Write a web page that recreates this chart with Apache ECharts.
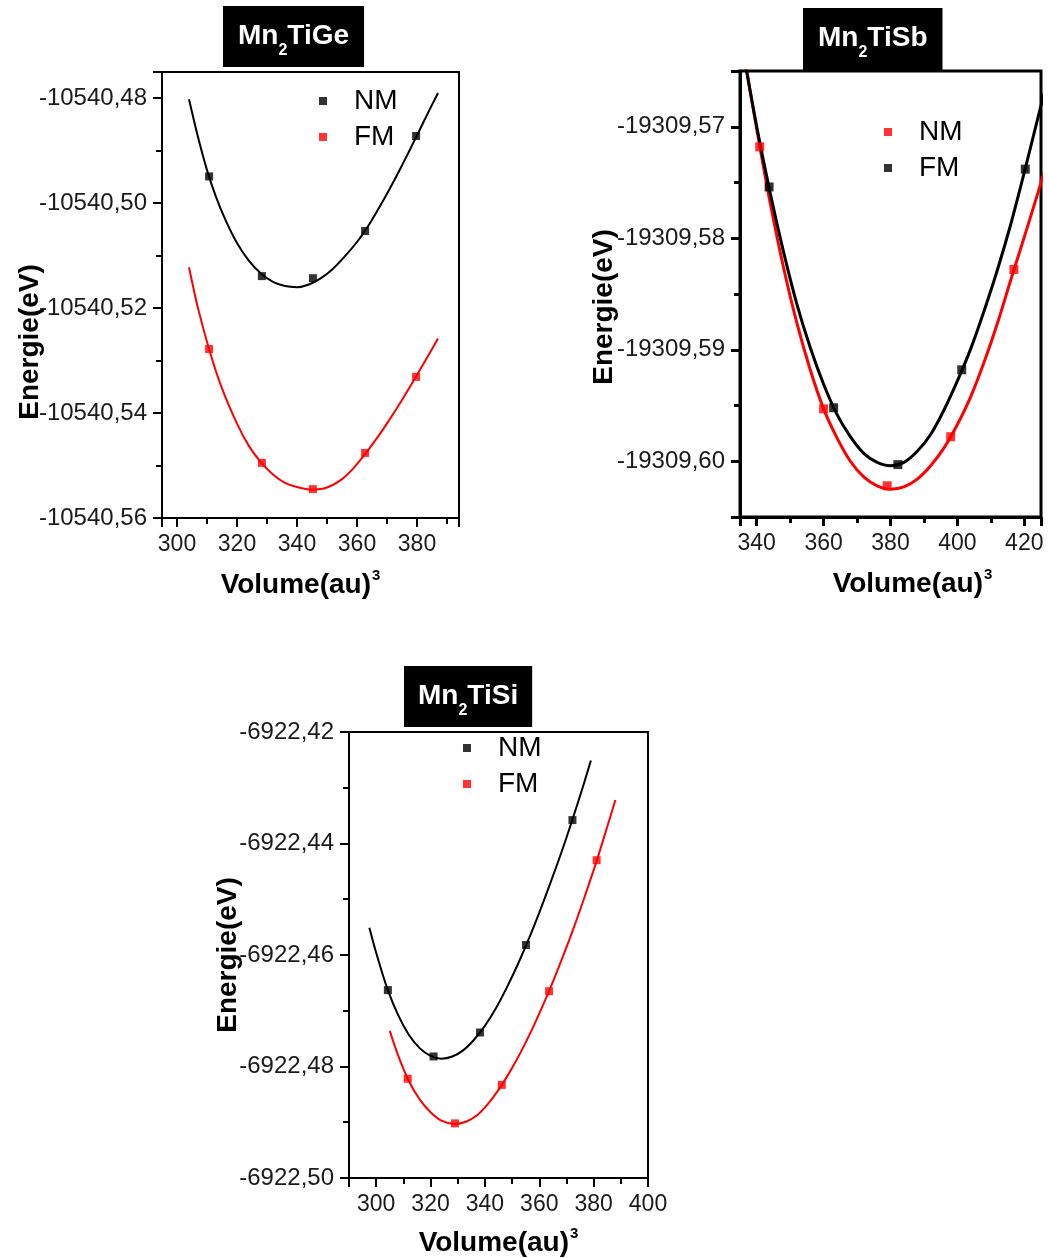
<!DOCTYPE html>
<html>
<head>
<meta charset="utf-8">
<title>Mn2TiX - E(V)</title>
<script src="https://cdn.jsdelivr.net/npm/echarts@6/dist/echarts.min.js"></script>
<style>
  html, body { margin: 0; padding: 0; background: #fff; }
  #chart { width: 1049px; height: 1258px; }
</style>
</head>
<body>
<div id="chart"></div>
<script>

// Mn2TiGe
var geNM = [[310.7, -10540.4949], [328.3, -10540.5139], [345.3, -10540.5143], [362.7, -10540.5053], [379.7, -10540.4872]];
var geFM = [[310.7, -10540.5278], [328.3, -10540.5495], [345.3, -10540.5545], [362.7, -10540.5476], [379.7, -10540.5331]];
var geNMFit = [[304, -10540.4802], [307, -10540.4874], [310, -10540.4937], [313, -10540.4988], [316, -10540.5030],
	[320, -10540.5076], [324, -10540.5110], [328, -10540.5134], [332, -10540.5150], [336, -10540.5158],
	[340, -10540.5160], [344, -10540.5155], [348, -10540.5143], [352, -10540.5125], [356, -10540.5101],
	[360, -10540.5074], [363, -10540.5050], [366, -10540.5022], [370, -10540.4982], [374, -10540.4939],
	[378, -10540.4894], [381, -10540.4859], [384, -10540.4824], [387, -10540.4790]];
var geFMFit = [[304, -10540.5122], [307, -10540.5200], [311, -10540.5284], [315, -10540.5353], [320, -10540.5420],
	[324, -10540.5463], [328, -10540.5494], [332, -10540.5517], [336, -10540.5533], [340, -10540.5541],
	[345, -10540.5546], [350, -10540.5542], [355, -10540.5526], [359, -10540.5504], [363, -10540.5476],
	[367, -10540.5445], [371, -10540.5411], [375, -10540.5375], [379, -10540.5337], [383, -10540.5298],
	[387, -10540.5258]];

// Mn2TiSb (NM red, FM black in this panel)
var sbNM = [[340.9, -19309.5718], [360.0, -19309.5953], [379.0, -19309.6022], [398.0, -19309.5978], [416.9, -19309.5828]];
var sbFM = [[343.7, -19309.5754], [363.0, -19309.5952], [382.2, -19309.6003], [401.3, -19309.5918], [420.3, -19309.5738]];
var sbNMFit = [[337, -19309.5649], [340, -19309.5702], [344, -19309.5768], [348, -19309.5826], [352, -19309.5876],
	[356, -19309.5918], [360, -19309.5953], [364, -19309.5979], [368, -19309.6000], [372, -19309.6014],
	[376, -19309.6022], [380, -19309.6025], [384, -19309.6023], [388, -19309.6016], [392, -19309.6004],
	[396, -19309.5988], [400, -19309.5967], [404, -19309.5942], [408, -19309.5911], [412, -19309.5876],
	[416, -19309.5837], [420, -19309.5799], [424, -19309.5760], [428, -19309.5720]];
var sbFMFit = [[336, -19309.5634], [340, -19309.5700], [344, -19309.5759], [348, -19309.5812], [352, -19309.5859],
	[356, -19309.5898], [360, -19309.5931], [364, -19309.5958], [368, -19309.5978], [372, -19309.5993],
	[376, -19309.6001], [380, -19309.6004], [384, -19309.6001], [388, -19309.5991], [392, -19309.5976],
	[396, -19309.5954], [400, -19309.5928], [404, -19309.5899], [408, -19309.5865], [412, -19309.5828],
	[416, -19309.5787], [420, -19309.5741], [424, -19309.5693], [428, -19309.5645]];

// Mn2TiSi
var siNM = [[304.3, -6922.4663], [321.1, -6922.4782], [338.2, -6922.4739], [355.1, -6922.4582], [372.2, -6922.4358]];
var siFM = [[311.6, -6922.4822], [329.0, -6922.4902], [346.2, -6922.4833], [363.6, -6922.4665], [381.1, -6922.4430]];
var siNMFit = [[297.5, -6922.4551], [300, -6922.4596], [304, -6922.4659], [308, -6922.4707], [312, -6922.4743],
	[316, -6922.4767], [320, -6922.4781], [324, -6922.4786], [328, -6922.4782], [332, -6922.4771],
	[336, -6922.4752], [340, -6922.4727], [344, -6922.4696], [348, -6922.4659], [352, -6922.4618],
	[356, -6922.4573], [360, -6922.4524], [364, -6922.4472], [368, -6922.4418], [372, -6922.4360],
	[376, -6922.4299], [379, -6922.4251]];
var siFMFit = [[305, -6922.4736], [308, -6922.4779], [312, -6922.4826], [316, -6922.4859], [320, -6922.4882],
	[324, -6922.4897], [329, -6922.4903], [333, -6922.4899], [337, -6922.4888], [341, -6922.4868],
	[345, -6922.4842], [349, -6922.4811], [353, -6922.4776], [357, -6922.4737], [361, -6922.4694],
	[365, -6922.4648], [369, -6922.4599], [373, -6922.4547], [377, -6922.4491], [381, -6922.4433],
	[385, -6922.4370], [388, -6922.4322]];

var titles = ['TiGe', 'TiSb', 'TiSi'];
var legendNames = ['NM', 'FM'];

/* --- styling --- */
var FONT = "'Liberation Sans', Arial, sans-serif";
var RED = '#ff0000', BLACK = '#000000';

function fmtE(v) {
	return v.toFixed(2).replace('.', ',');
}

function xAxis(gi, min, max, lw, showMax, shift, gap) {
	return {
		type: 'value', gridIndex: gi, min: min, max: max, splitNumber: 5,
		name: 'Volume(au){sup|3}', nameLocation: 'middle', nameGap: gap,
		nameMoveOverlap: false,
		nameTextStyle: {
			fontFamily: FONT, fontSize: 28, fontWeight: 'bold', color: '#000',
			padding: shift > 0 ? [0, 0, 0, 2 * shift] : [0, -2 * shift, 0, 0],
			rich: { sup: { fontFamily: FONT, fontSize: 15, fontWeight: 'bold', color: '#000', padding: [0, 0, 20, 1] } }
		},
		axisLine: { onZero: false, lineStyle: { color: '#000', width: lw } },
		axisTick: { length: 9, lineStyle: { color: '#000', width: lw } },
		minorTick: { show: true, splitNumber: 2, length: 6, lineStyle: { color: '#000', width: lw } },
		splitLine: { show: false },
		axisLabel: {
			margin: 15, fontFamily: FONT, fontSize: 23, color: '#1a1a1a',
			showMinLabel: false, showMaxLabel: showMax
		}
	};
}

function yAxis(gi, min, max, lw, showMin, showMax, shift, gap) {
	return {
		type: 'value', gridIndex: gi, min: min, max: max, splitNumber: 4,
		name: 'Energie(eV)', nameLocation: 'middle', nameGap: gap,
		nameMoveOverlap: false,
		nameTextStyle: {
			fontFamily: FONT, fontSize: 28, fontWeight: 'bold', color: '#000',
			padding: [0, 2 * shift, 0, 0]
		},
		axisLine: { onZero: false, lineStyle: { color: '#000', width: lw } },
		axisTick: { length: 9, lineStyle: { color: '#000', width: lw } },
		minorTick: { show: true, splitNumber: 2, length: 6, lineStyle: { color: '#000', width: lw } },
		splitLine: { show: false },
		axisLabel: {
			margin: 15, fontFamily: FONT, fontSize: 24, color: '#1a1a1a',
			showMinLabel: showMin, showMaxLabel: showMax,
			formatter: fmtE
		}
	};
}

function title(i, left, top, padH, padB) {
	return {
		text: '{m|Mn}{s|2}{m|' + titles[i] + '}',
		left: left, top: top,
		backgroundColor: '#000',
		padding: [7, padH, padB, padH],
		textStyle: {
			rich: {
				m: { fontFamily: FONT, fontSize: 28, fontWeight: 'bold', color: '#fff', lineHeight: 30 },
				s: { fontFamily: FONT, fontSize: 16, fontWeight: 'bold', color: '#fff', lineHeight: 16, padding: [30, 0, 0, 0] }
			}
		}
	};
}

function legend(left, top, nmColor, fmColor) {
	return {
		left: left, top: top, orient: 'vertical',
		icon: 'rect', itemWidth: 8, itemHeight: 8, itemGap: 8,
		selectedMode: false,
		data: [
			{ name: legendNames[0], itemStyle: { color: nmColor } },
			{ name: legendNames[1], itemStyle: { color: fmColor } }
		],
		textStyle: { fontFamily: FONT, fontSize: 28, color: '#000', padding: [0, 0, 0, 22] }
	};
}

function points(gi, name, data, color, size) {
	return {
		type: 'scatter', name: name, xAxisIndex: gi, yAxisIndex: gi,
		data: data, symbol: 'rect', symbolSize: size,
		itemStyle: { color: color }, z: 4
	};
}

function fit(gi, name, data, color, lw) {
	return {
		type: 'line', name: name, xAxisIndex: gi, yAxisIndex: gi,
		data: data, symbol: 'none', smooth: 0.3, clip: true,
		lineStyle: { color: color, width: lw }, itemStyle: { color: color },
		z: 3, silent: true
	};
}

var chart = echarts.init(document.getElementById('chart'), null, { renderer: 'canvas' });

var option = {
	backgroundColor: '#fff',
	animation: false,
	title: [
		title(0, 223, 14, 15, 8),
		title(1, 803, 16, 15, 11),
		title(2, 404, 674, 14, 8)
	],
	legend: [
		legend(314, 82, BLACK, RED),
		legend(879, 113, RED, BLACK),
		legend(458, 729, BLACK, RED)
	],
	grid: [
		{ left: 162, top: 72, width: 297, height: 446, show: true, borderColor: '#000', borderWidth: 2, outerBoundsMode: 'none' },
		{ left: 740, top: 71, width: 301, height: 446, show: true, borderColor: '#000', borderWidth: 3, outerBoundsMode: 'none' },
		{ left: 349, top: 732, width: 299, height: 446, show: true, borderColor: '#000', borderWidth: 2, outerBoundsMode: 'none' }
	],
	xAxis: [
		xAxis(0, 295, 394, 2, false, -10, 50),
		xAxis(1, 335, 425, 3, false, 22, 50),
		xAxis(2, 290, 400, 2, true, 0, 48)
	],
	yAxis: [
		yAxis(0, -10540.56, -10540.475, 2, true, false, 47, 118),
		yAxis(1, -19309.605, -19309.565, 3, false, false, 13, 122),
		yAxis(2, -6922.50, -6922.42, 2, true, true, 0, 107)
	],
	series: [
		points(0, 'NM', geNM, BLACK, 8),
		points(0, 'FM', geFM, RED, 8),
		fit(0, 'NM', geNMFit, BLACK, 2),
		fit(0, 'FM', geFMFit, RED, 2),

		points(1, 'NM', sbNM, RED, 9),
		points(1, 'FM', sbFM, BLACK, 9),
		fit(1, 'NM', sbNMFit, RED, 3),
		fit(1, 'FM', sbFMFit, BLACK, 3),

		points(2, 'NM', siNM, BLACK, 8),
		points(2, 'FM', siFM, RED, 8),
		fit(2, 'NM', siNMFit, BLACK, 2),
		fit(2, 'FM', siFMFit, RED, 2)
	]
};

chart.setOption(option);
</script>
</body>
</html>
